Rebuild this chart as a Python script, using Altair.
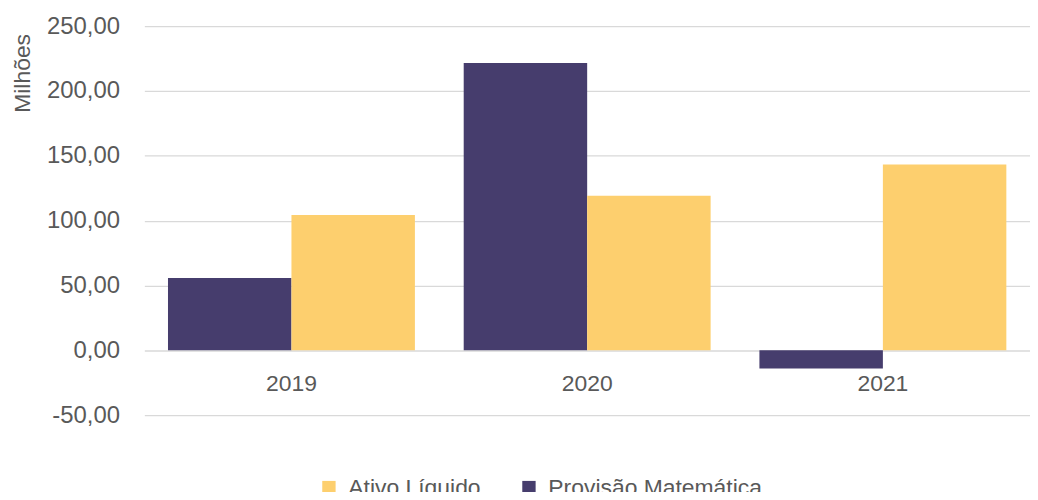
import altair as alt
import pandas as pd

years = ["2019", "2020", "2021"]
provisao = [55.7, 221.6, -14.0]
ativo = [104.3, 119.1, 143.2]
series = ["Ativo Líquido", "Provisão Matemática"]
colors = ["#FDCF6E", "#463D6D"]

rows = []
for y, p, a in zip(years, provisao, ativo):
    rows.append({"ano": y, "serie": "Provisão Matemática", "valor": p})
    rows.append({"ano": y, "serie": "Ativo Líquido", "valor": a})
df = pd.DataFrame(rows)
df_years = pd.DataFrame({"ano": years, "zero": [0] * len(years)})

FONT = "Liberation Sans"
GRAY = "#595959"

bars = alt.Chart(df).mark_bar().encode(
    x=alt.X("ano:N", sort=years, axis=None,
            scale=alt.Scale(paddingInner=0.165, paddingOuter=0.08)),
    xOffset=alt.XOffset("serie:N", sort=["Provisão Matemática", "Ativo Líquido"],
                        scale=alt.Scale(paddingInner=0, paddingOuter=0)),
    y=alt.Y("valor:Q",
            scale=alt.Scale(domain=[-50, 250], nice=False, zero=False),
            axis=alt.Axis(
                values=[-50, 0, 50, 100, 150, 200, 250],
                labelExpr="replace(replace(format(datum.value, '.2f'), '.', ','), '\u2212', '-')",
                title="Milhões",
                titleAngle=-90,
                titleX=-122,
                titleY=47,
                titleAlign="center",
                titleBaseline="middle",
                titleFont=FONT,
                titleFontSize=23,
                titleFontWeight="normal",
                titleColor=GRAY,
                labelFont=FONT,
                labelFontSize=24,
                labelColor=GRAY,
                labelPadding=25,
                ticks=False,
                domain=False,
                grid=True,
                gridColor="#D9D9D9",
                gridWidth=1.3,
            )),
    color=alt.Color("serie:N",
                    scale=alt.Scale(domain=series, range=colors),
                    legend=alt.Legend(
                        title=None,
                        orient="none",
                        direction="horizontal",
                        legendX=174,
                        legendY=452,
                        symbolType="square",
                        symbolSize=180,
                        symbolStrokeWidth=0,
                        labelFont=FONT,
                        labelFontSize=23,
                        labelColor=GRAY,
                        labelOffset=8,
                        labelLimit=400,
                        columnPadding=37,
                    )),
)

labels = alt.Chart(df_years).mark_text(
    font=FONT, fontSize=23, color=GRAY, dy=34, baseline="middle"
).encode(
    x=alt.X("ano:N", sort=years, axis=None,
            scale=alt.Scale(paddingInner=0.165, paddingOuter=0.08)),
    y=alt.Y("zero:Q"),
    text="ano:N",
)

chart = alt.layer(bars, labels).properties(
    width=890,
    height=391,
    autosize=alt.AutoSizeParams(type="none"),
    padding={"left": 137, "top": 17, "right": 0, "bottom": 76},
).configure(background="white").configure_view(stroke=None)

chart.save("out.html", embed_options={"renderer": "svg", "actions": False})
